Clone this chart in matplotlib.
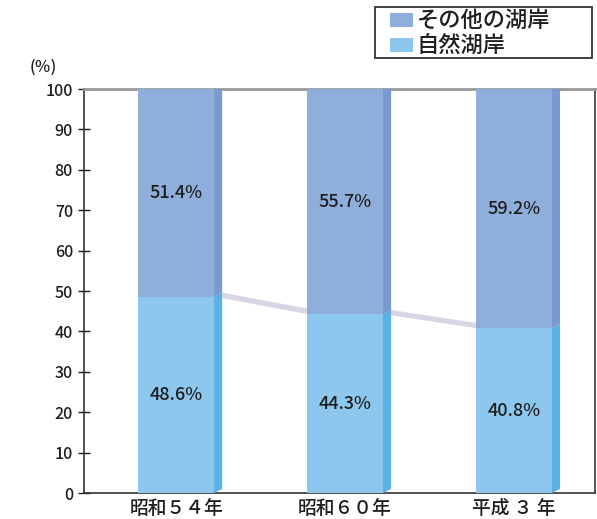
import matplotlib
matplotlib.use("Agg")
import matplotlib.pyplot as plt
from matplotlib.patches import Polygon, Rectangle

plt.rcParams['font.family'] = ['Noto Sans CJK JP', 'DejaVu Sans']

categories = ['昭和５４年', '昭和６０年', '平成 ３ 年']
natural = [48.6, 44.3, 40.8]
other = [51.4, 55.7, 59.2]
yticks = [0, 10, 20, 30, 40, 50, 60, 70, 80, 90, 100]
legend_labels = ['その他の湖岸', '自然湖岸']

c_other = '#8FAEDC'
c_other_side = '#7A99CE'
c_nat = '#8EC7EE'
c_nat_side = '#5AB1E6'
c_band = '#D9D5E5'
c_text = '#1E1E1E'
W, H = 597, 519

fig = plt.figure(figsize=(W / 100, H / 100), dpi=100)
ax = fig.add_axes([84 / W, 26 / H, 511 / W, 404 / H])

w = 0.45
dx = 0.048
dy = 1.0
x = list(range(len(categories)))

ax.bar(x, natural, width=w, color=c_nat, zorder=3)
ax.bar(x, other, width=w, bottom=natural, color=c_other, zorder=3)

for i in x:
    r = i + w / 2
    n = natural[i]
    ax.add_patch(Polygon([(r, 0), (r + dx, dy), (r + dx, n + dy), (r, n)],
                         closed=True, color=c_nat_side, zorder=3, lw=0))
    ax.add_patch(Polygon([(r, n), (r + dx, n + dy), (r + dx, 100 + dy), (r, 100)],
                         closed=True, color=c_other_side, zorder=3, lw=0))
    ax.text(i, n / 2, f'{n:.1f}%', ha='center', va='center', fontsize=13,
            color=c_text, zorder=5, fontweight='medium')
    ax.text(i, n + other[i] / 2, f'{other[i]:.1f}%', ha='center', va='center',
            fontsize=13, color=c_text, zorder=5, fontweight='medium')

for i in range(len(x) - 1):
    r = x[i] + w / 2
    l = x[i + 1] - w / 2
    v1 = natural[i]
    v2 = natural[i + 1]
    ax.add_patch(Polygon([(r, v1), (r + dx, v1 + dy), (l + dx, v2 + dy), (l, v2)],
                         closed=True, color=c_band, zorder=2, lw=0))

ax.set_xlim(-0.545, 2.48)
ax.set_ylim(0, 100)
ax.set_yticks(yticks)
ax.set_yticklabels([str(v) for v in yticks], fontsize=11.5, color=c_text,
                   fontweight='medium')
ax.set_xticks(x)
ax.set_xticklabels(categories, fontsize=13.5, color=c_text, fontweight='medium')
ax.tick_params(axis='y', direction='inout', length=8, width=1, colors=c_text, pad=4)
ax.tick_params(axis='x', length=0, pad=4)

for s in ['left', 'bottom', 'right']:
    ax.spines[s].set_color('#333333')
    ax.spines[s].set_linewidth(1.2)
ax.spines['top'].set_color('#999999')
ax.spines['top'].set_linewidth(2.0)

fig.text(43 / W, 1 - 67 / H, '(％)', ha='center', va='center', fontsize=11.5,
         color=c_text, fontweight='medium')

# legend box
fig.add_artist(Rectangle((375 / W, 1 - 58 / H), 217 / W, 51 / H,
                         transform=fig.transFigure, fill=False,
                         edgecolor='#333333', lw=1.3))
for k, (lab, col) in enumerate(zip(legend_labels, [c_other, c_nat])):
    yc = 20 + 25 * k
    fig.add_artist(Rectangle((390 / W, 1 - (yc + 7) / H), 23 / W, 14 / H,
                             transform=fig.transFigure, color=col, lw=0))
    fig.text(417 / W, 1 - yc / H, lab, ha='left', va='center', fontsize=16,
             color=c_text, fontweight='medium')

fig.savefig('out.png', dpi=100)
